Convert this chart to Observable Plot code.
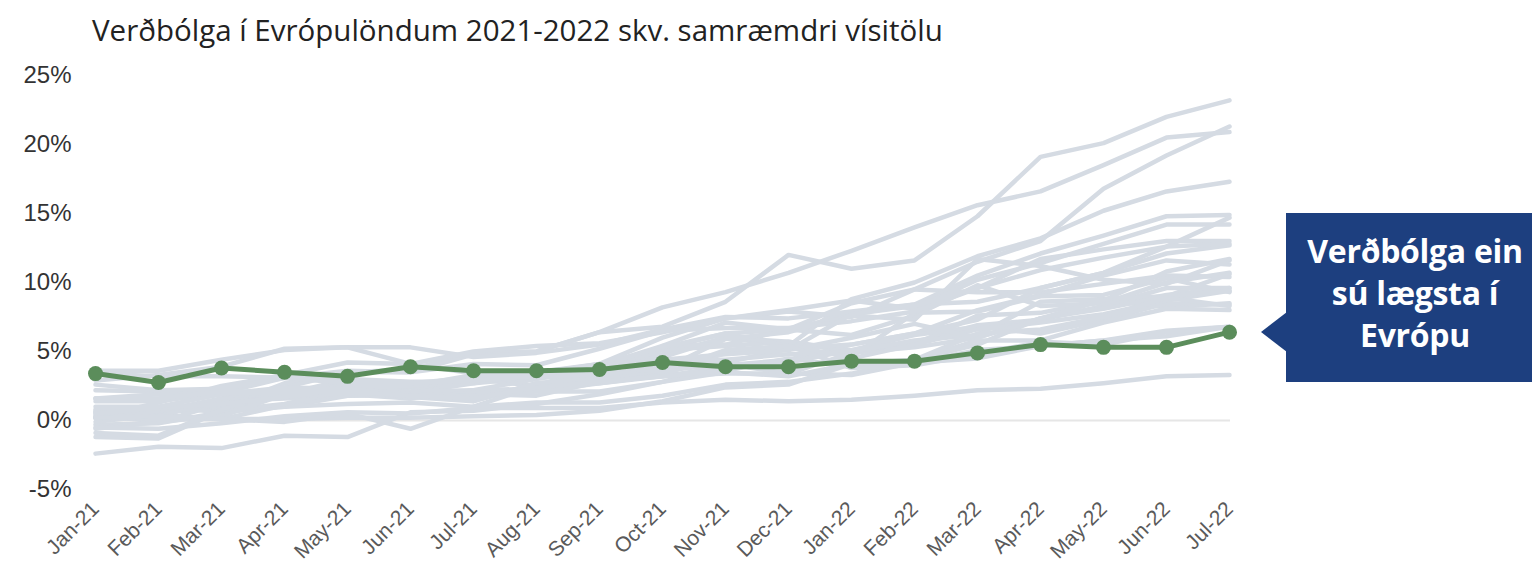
<!DOCTYPE html>
<html>
<head>
<meta charset="utf-8">
<script src="https://cdn.jsdelivr.net/npm/d3@7"></script>
<script src="https://cdn.jsdelivr.net/npm/@observablehq/plot@0.6"></script>
<style>
  html, body { margin: 0; padding: 0; background: #fff; }
  #wrap { position: relative; width: 1532px; height: 572px; overflow: hidden; }
  #title { position: absolute; left: 92px; top: 15px; font-family: "Open Sans", "Noto Sans", sans-serif; font-size: 29.5px; line-height: 1; color: #222; white-space: nowrap; }
  #chart { position: absolute; left: 0; top: 55px; }
  #callout { position: absolute; left: 1286px; top: 213px; width: 300px; height: 169px; background: #1d3f7f; color: #fff;
    font-family: "Open Sans", "Noto Sans", sans-serif; font-weight: 700; font-size: 32px; line-height: 42px; box-sizing: border-box; padding-top: 17px; }
  #callout .txt { width: 258px; text-align: center; letter-spacing: -0.3px; }
  #arrow { position: absolute; left: 1261px; top: 312px; width: 0; height: 0; border-top: 20px solid transparent; border-bottom: 20px solid transparent; border-right: 26px solid #1d3f7f; }
</style>
</head>
<body>
<div id="wrap">
  <div id="title">Verðbólga í Evrópulöndum 2021-2022 skv. samræmdri vísitölu</div>
  <div id="chart"></div>
  <div id="arrow"></div>
  <div id="callout"><div class="txt">Verðbólga ein<br>sú lægsta í<br>Evrópu</div></div>
</div>
<script>
const months = ["Jan-21","Feb-21","Mar-21","Apr-21","May-21","Jun-21","Jul-21","Aug-21","Sep-21","Oct-21","Nov-21","Dec-21","Jan-22","Feb-22","Mar-22","Apr-22","May-22","Jun-22","Jul-22"];
const yTicks = [-5, 0, 5, 10, 15, 20, 25];

// Iceland (highlighted)
const iceland = [3.4, 2.75, 3.8, 3.5, 3.2, 3.9, 3.6, 3.6, 3.7, 4.2, 3.9, 3.9, 4.3, 4.3, 4.9, 5.5, 5.3, 5.3, 6.4];

// Other European countries (grey)
const belgium     = [0.6, 0.3, 1.6, 2.0, 2.5, 2.6, 1.4, 2.7, 3.1, 5.4, 7.1, 6.6, 8.5, 9.5, 9.3, 9.3, 9.9, 10.5, 10.4];
const bulgaria    = [-0.3, -0.2, 0.6, 2.0, 2.0, 2.4, 3.0, 2.5, 4.0, 5.2, 6.3, 6.6, 7.7, 8.4, 10.5, 12.1, 13.4, 14.8, 14.9];
const czechia     = [2.2, 2.1, 2.0, 3.1, 2.9, 2.7, 3.1, 3.1, 4.0, 4.8, 6.0, 5.4, 8.8, 10.0, 11.9, 13.2, 15.2, 16.6, 17.3];
const denmark     = [0.6, 0.6, 0.9, 1.0, 1.8, 1.9, 1.9, 1.8, 2.8, 3.6, 4.1, 3.4, 4.9, 5.3, 6.0, 7.4, 8.2, 9.1, 9.6];
const germany     = [1.6, 1.6, 2.0, 2.1, 2.4, 2.1, 3.1, 3.4, 4.1, 4.6, 6.0, 5.7, 5.1, 5.5, 7.6, 7.8, 8.7, 8.2, 8.5];
const estonia     = [0.3, 0.6, 0.9, 2.7, 3.5, 3.7, 4.9, 5.0, 6.4, 6.8, 8.6, 12.0, 11.0, 11.6, 14.8, 19.1, 20.1, 22.0, 23.2];
const ireland     = [-0.1, 0.4, 0.1, 1.1, 1.9, 1.6, 2.2, 3.0, 3.8, 5.1, 5.4, 5.7, 5.0, 5.7, 6.9, 7.3, 8.3, 9.6, 9.6];
const greece      = [-2.4, -1.9, -2.0, -1.1, -1.2, 0.6, 0.7, 1.2, 1.9, 2.8, 4.0, 4.4, 5.5, 6.3, 8.0, 9.1, 10.5, 11.6, 11.3];
const spain       = [0.4, -0.1, 1.2, 2.0, 2.4, 2.5, 2.9, 3.3, 4.0, 5.4, 5.5, 6.6, 6.2, 7.6, 9.8, 8.3, 8.5, 10.0, 10.7];
const france      = [0.8, 0.8, 1.4, 1.6, 1.8, 1.9, 1.5, 2.4, 2.7, 3.2, 3.4, 3.4, 3.3, 4.2, 5.1, 5.4, 5.8, 6.5, 6.8];
const croatia     = [0.2, 0.3, 1.5, 2.1, 2.2, 2.0, 2.7, 3.1, 3.3, 3.9, 4.2, 5.2, 5.5, 6.3, 7.3, 9.6, 10.7, 12.1, 12.7];
const italy       = [0.7, 1.0, 0.6, 1.0, 1.2, 1.3, 1.0, 2.5, 2.9, 3.2, 3.9, 4.2, 5.1, 6.2, 6.8, 6.3, 7.3, 8.5, 8.4];
const cyprus      = [-1.2, -1.3, 0.7, 1.2, 2.2, 2.1, 2.2, 2.3, 3.6, 4.4, 4.4, 4.8, 5.0, 5.8, 6.2, 8.6, 8.8, 9.0, 10.6];
const latvia      = [-0.6, -0.1, 0.3, 1.9, 2.7, 2.7, 2.7, 3.5, 4.1, 6.0, 7.4, 7.9, 7.5, 9.5, 11.5, 13.0, 16.8, 19.2, 21.3];
const lithuania   = [0.2, 0.7, 1.6, 2.4, 3.5, 3.5, 4.8, 5.0, 6.4, 8.2, 9.3, 10.7, 12.3, 14.0, 15.6, 16.6, 18.5, 20.5, 20.9];
const luxembourg  = [0.2, 1.3, 2.5, 3.3, 4.2, 4.1, 3.4, 3.5, 4.0, 5.3, 6.3, 5.4, 4.6, 7.8, 7.9, 9.0, 9.1, 10.3, 9.3];
const hungary     = [2.9, 3.3, 3.9, 5.2, 5.3, 5.3, 4.6, 4.9, 5.5, 6.6, 7.5, 7.4, 7.9, 8.4, 8.6, 9.6, 10.7, 12.6, 14.7];
const malta       = [0.2, 0.1, 0.1, 0.1, 0.2, 0.2, 0.3, 0.4, 0.7, 1.4, 2.4, 2.6, 4.1, 4.2, 4.5, 5.4, 5.8, 6.1, 6.8];
const netherlands = [1.6, 1.9, 1.9, 1.7, 2.0, 1.7, 1.4, 2.7, 3.0, 3.7, 5.9, 6.4, 7.6, 7.3, 11.7, 11.2, 10.2, 9.9, 11.6];
const austria     = [1.4, 1.4, 2.0, 1.9, 3.0, 2.8, 2.8, 3.2, 3.3, 3.8, 4.1, 3.8, 4.5, 5.5, 6.6, 7.1, 7.7, 8.7, 9.4];
const poland      = [3.6, 3.6, 4.4, 5.1, 5.3, 4.1, 5.0, 5.4, 5.6, 6.4, 7.4, 8.0, 8.7, 8.1, 10.2, 11.4, 12.8, 14.2, 14.2];
const portugal    = [0.2, 0.3, 0.1, -0.1, 0.5, -0.6, 1.0, 1.3, 1.3, 1.8, 2.6, 2.8, 3.4, 4.4, 5.5, 7.4, 8.1, 9.0, 9.4];
const romania     = [2.6, 2.2, 2.3, 3.1, 3.6, 3.5, 4.1, 4.0, 5.2, 6.5, 6.7, 6.7, 7.2, 7.9, 9.6, 11.7, 12.4, 13.0, 13.0];
const slovenia    = [-0.9, -1.1, 0.8, 2.2, 2.2, 1.7, 2.0, 2.1, 2.7, 3.3, 4.9, 5.1, 6.0, 7.0, 6.0, 7.4, 8.7, 10.8, 11.7];
const slovakia    = [0.5, 0.9, 1.2, 1.7, 2.3, 2.5, 3.3, 3.3, 4.0, 4.4, 4.8, 5.1, 7.7, 8.3, 9.6, 10.9, 11.8, 12.6, 12.8];
const finland     = [1.0, 1.0, 1.9, 2.4, 2.3, 1.9, 1.8, 2.1, 2.1, 2.8, 3.5, 3.2, 4.1, 4.4, 5.8, 5.8, 7.1, 8.1, 8.0];
const sweden      = [1.6, 1.6, 2.1, 2.1, 2.1, 1.8, 1.6, 2.4, 2.8, 3.2, 3.6, 4.5, 3.9, 4.4, 6.3, 6.6, 7.5, 8.9, 8.3];
const norway      = [3.4, 3.2, 3.2, 3.1, 2.7, 2.7, 2.9, 3.2, 4.1, 3.5, 5.1, 5.4, 3.8, 4.0, 4.8, 5.7, 5.5, 6.4, 6.8];
const switzerland = [-0.5, -0.6, -0.2, 0.3, 0.6, 0.5, 0.9, 0.9, 0.9, 1.3, 1.5, 1.4, 1.5, 1.8, 2.2, 2.3, 2.7, 3.2, 3.3];

const greySeries = [
  ["Belgía", belgium], ["Búlgaría", bulgaria], ["Tékkland", czechia], ["Danmörk", denmark], ["Þýskaland", germany],
  ["Eistland", estonia], ["Írland", ireland], ["Grikkland", greece], ["Spánn", spain], ["Frakkland", france],
  ["Króatía", croatia], ["Ítalía", italy], ["Kýpur", cyprus], ["Lettland", latvia], ["Litháen", lithuania],
  ["Lúxemborg", luxembourg], ["Ungverjaland", hungary], ["Malta", malta], ["Holland", netherlands], ["Austurríki", austria],
  ["Pólland", poland], ["Portúgal", portugal], ["Rúmenía", romania], ["Slóvenía", slovenia], ["Slóvakía", slovakia],
  ["Finnland", finland], ["Svíþjóð", sweden], ["Noregur", norway], ["Sviss", switzerland]
];

const greyRows = greySeries.flatMap(([country, vals]) => vals.map((v, i) => ({country, month: months[i], value: v})));
const iceRows = iceland.map((v, i) => ({country: "Ísland", month: months[i], value: v}));

const chart = Plot.plot({
  width: 1532,
  height: 517,
  marginTop: 20,
  marginBottom: 83,
  marginLeft: 94,
  marginRight: 302,
  style: {fontFamily: "'Liberation Sans', Arial, sans-serif", color: "#333", background: "transparent", overflow: "visible"},
  x: {type: "point", domain: months, padding: 0},
  y: {domain: [-5, 25]},
  marks: [
    Plot.ruleY([0], {stroke: "#e6e6e6", strokeWidth: 2}),
    Plot.line(greyRows, {x: "month", y: "value", z: "country", stroke: "#d5dbe3", strokeWidth: 4.5, curve: "linear"}),
    Plot.line(iceRows, {x: "month", y: "value", stroke: "#5b8d5b", strokeWidth: 5}),
    Plot.dot(iceRows, {x: "month", y: "value", fill: "#5b8d5b", r: 7.5}),
    Plot.axisY({ticks: yTicks, tickFormat: d => d + "%", tickSize: 0, tickPadding: 23, fontSize: 24, fill: "#333", label: null}),
    Plot.axisX({tickSize: 0, tickPadding: 16, tickRotate: -45, fontSize: 21, fill: "#5a5a5a", label: null})
  ]
});
document.getElementById("chart").appendChild(chart);
</script>
</body>
</html>
